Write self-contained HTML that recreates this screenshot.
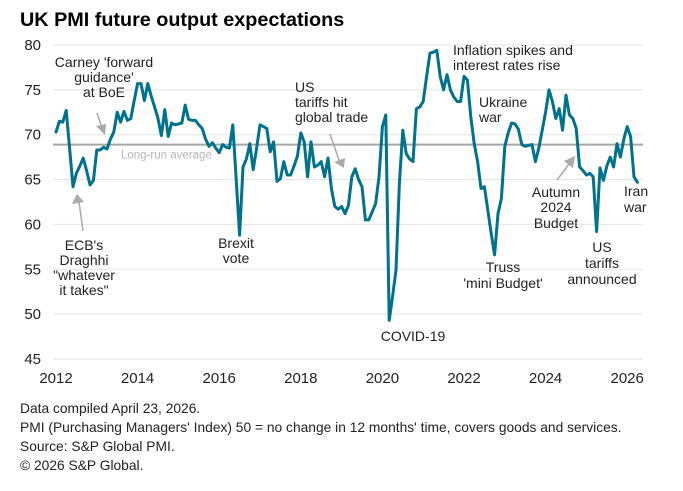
<!DOCTYPE html>
<html><head><meta charset="utf-8"><style>
body{margin:0;background:#fff;}
svg{display:block;font-family:"Liberation Sans",Arial,sans-serif;}
</style></head><body>
<svg id="chart" width="683" height="491" viewBox="0 0 683 491">
<text x="20" y="26" font-size="19.8" font-weight="bold" fill="#000">UK PMI future output expectations</text>
<g id="grid"></g>
<g id="yaxis"></g>
<g id="xaxis"></g>
<g id="avg"></g>
<g id="series"></g>
<g font-size="14" fill="#222">
<text text-anchor="middle"><tspan x="104" y="67">Carney 'forward</tspan><tspan x="104" y="82">guidance'</tspan><tspan x="104" y="97">at BoE</tspan></text>
<text text-anchor="middle"><tspan x="84" y="250">ECB's</tspan><tspan x="84" y="265">Draghhi</tspan><tspan x="84" y="280">"whatever</tspan><tspan x="84" y="295">it takes"</tspan></text>
<text text-anchor="middle"><tspan x="236" y="248">Brexit</tspan><tspan x="236" y="263">vote</tspan></text>
<text><tspan x="295" y="92">US</tspan><tspan x="295" y="107">tariffs hit</tspan><tspan x="295" y="122">global trade</tspan></text>
<text text-anchor="middle" x="413" y="341">COVID-19</text>
<text><tspan x="453" y="55">Inflation  spikes and</tspan><tspan x="453" y="70">interest rates rise</tspan></text>
<text><tspan x="479" y="107">Ukraine</tspan><tspan x="479" y="122">war</tspan></text>
<text text-anchor="middle"><tspan x="503" y="272">Truss</tspan><tspan x="503" y="288">'mini Budget'</tspan></text>
<text text-anchor="middle"><tspan x="556" y="197">Autumn</tspan><tspan x="556" y="212">2024</tspan><tspan x="556" y="228">Budget</tspan></text>
<text text-anchor="middle"><tspan x="602" y="252">US</tspan><tspan x="602" y="268">tariffs</tspan><tspan x="602" y="284">announced</tspan></text>
<text><tspan x="624" y="196">Iran</tspan><tspan x="624" y="212">war</tspan></text>
</g>
<g stroke="#aaa" stroke-width="1.5" fill="#aaa">
<line x1="97" y1="113" x2="102" y2="128"/><polygon points="96,126 106,124 105,135" stroke="none"/>
<line x1="83" y1="231" x2="79" y2="202"/><polygon points="72,204 84,202 77,194" stroke="none"/>
<line x1="330" y1="134" x2="339" y2="160"/><polygon points="334,162 345,158 344,168" stroke="none"/>
<line x1="557" y1="180" x2="569" y2="164"/><polygon points="564,161 573,168 575,156" stroke="none"/>
</g>
<g font-size="13.8" fill="#222">
<text x="20" y="413">Data compiled April  23, 2026.</text>
<text x="20" y="432">PMI (Purchasing Managers' Index) 50 = no change in 12 months' time, covers goods and services.</text>
<text x="20" y="451">Source: S&amp;P Global PMI.</text>
<text x="20" y="470">© 2026 S&amp;P Global.</text>
</g>
</svg>
<script>
const yTicks = [45, 50, 55, 60, 65, 70, 75, 80];
const xTickYears = [2012, 2014, 2016, 2018, 2020, 2022, 2024, 2026];
const longRunAverage = [68.9];
const startYear = [2012];
const pmiValues = [
70.3,71.5,71.4,72.7,68.5,64.2,65.7,66.5,67.4,66.0,64.4,64.9,
68.3,68.3,68.6,68.4,69.5,70.3,72.5,71.4,72.6,71.6,71.8,73.8,
75.7,75.7,73.8,75.7,74.3,73.1,71.8,69.9,72.8,69.8,71.3,71.1,
71.2,71.3,73.3,71.7,71.6,71.6,71.1,70.7,69.5,68.7,69.1,68.5,
68.0,68.9,68.6,68.5,71.1,65.0,58.8,66.4,67.3,69.0,66.1,68.5,
71.1,70.9,70.7,68.1,69.2,64.8,65.1,67.0,65.5,65.5,66.5,67.6,
70.2,69.2,65.3,69.2,66.4,66.6,67.0,65.3,67.4,64.0,62.0,61.7,
62.0,61.2,62.1,65.3,66.2,65.0,64.2,60.5,60.5,61.4,62.3,65.3,
70.9,72.2,49.3,52.0,54.9,64.6,70.5,67.9,67.3,67.0,72.9,73.1,
73.7,76.5,79.1,79.2,79.4,76.5,75.0,76.7,75.0,74.2,73.7,73.7,
76.5,76.1,72.0,69.0,67.0,64.0,64.2,61.6,59.0,56.6,61.2,62.9,
68.7,70.2,71.3,71.2,70.6,68.9,68.7,68.8,68.9,67.0,68.5,70.5,
72.5,75.0,73.7,71.8,72.9,70.5,74.4,72.2,71.8,70.7,66.4,66.0,
65.5,65.7,65.3,59.2,66.3,64.9,66.5,67.5,66.4,69.0,67.5,69.5,
70.9,69.8,65.3,64.7];

const NS='http://www.w3.org/2000/svg';
const X0=56, PX_PER_YEAR=40.8, Y0=45, PX_PER_UNIT=8.97, PLOT_L=53, PLOT_R=643;
function xScale(monthIndex){return X0 + monthIndex*PX_PER_YEAR/12;}
function xYear(yr){return X0 + (yr-startYear[0])*PX_PER_YEAR;}
function yScale(v){return Y0 + (80-v)*PX_PER_UNIT;}
function mk(tag,attrs,parent){const e=document.createElementNS(NS,tag);for(const k in attrs)e.setAttribute(k,attrs[k]);parent.appendChild(e);return e;}

const grid=document.getElementById('grid'), yax=document.getElementById('yaxis'), xax=document.getElementById('xaxis');
yTicks.forEach(v=>{
  const l=mk('line',{x1:PLOT_L,x2:PLOT_R,y1:yScale(v),y2:yScale(v),stroke:'#e3e3e3','stroke-width':1},grid);
  
  
  const t=mk('text',{x:41,y:yScale(v)+5,'text-anchor':'end','font-size':15,fill:'#222'},yax);
  t.textContent=v;
  
  
});
xTickYears.forEach(yr=>{
  const t=mk('text',{x:xYear(yr),y:383,'text-anchor':'middle','font-size':15,fill:'#222'},xax);
  t.textContent=yr;
  
  
});
const avgG=document.getElementById('avg');
const al=mk('line',{x1:PLOT_L,x2:PLOT_R,y1:yScale(longRunAverage[0]),y2:yScale(longRunAverage[0]),stroke:'#a6a6a6','stroke-width':2},avgG);


const at=mk('text',{x:121,y:yScale(longRunAverage[0])+14,'font-size':11.5,fill:'#b5b5b5'},avgG);
at.textContent='Long-run average';



const pts=pmiValues.map((v,i)=>xScale(i).toFixed(2)+','+yScale(v).toFixed(2)).join(' ');
const pl=mk('polyline',{points:pts,fill:'none',stroke:'#00728c','stroke-width':3,'stroke-linejoin':'round','stroke-linecap':'round'},document.getElementById('series'));


</script>
</body></html>
